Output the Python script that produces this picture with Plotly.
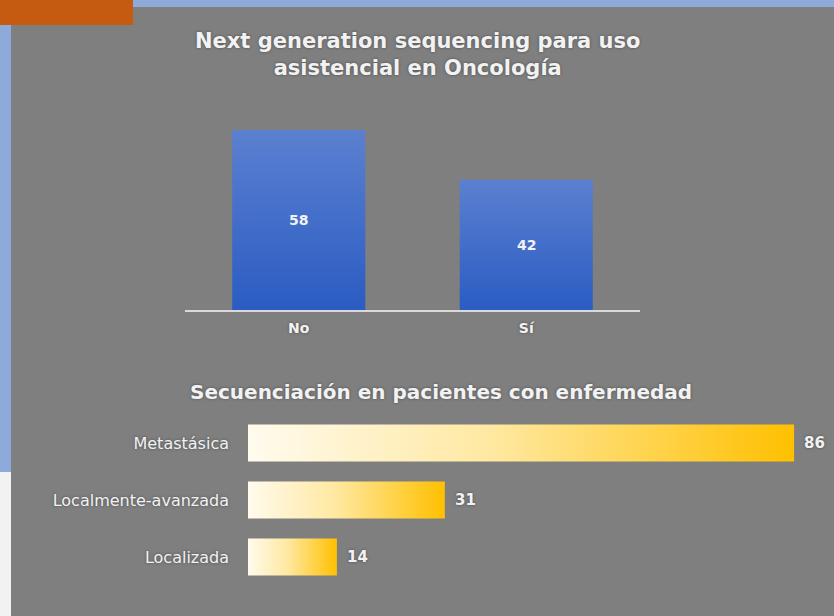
import plotly.graph_objects as go

# ---- data ----
ngs_categories = ["No", "Sí"]
ngs_values = [58, 42]

stage_categories = ["Metastásica", "Localmente-avanzada", "Localizada"]
stage_values = [86, 31, 14]

# ---- page geometry (pixels) ----
W, H = 834, 616
BG = "#7f7f7f"
TXT = "#f2f2f2"
SHADOW = "0px 0px 3px #4a4a4a"


def fx(p):
    return p / W


def fy(p):
    return 1 - p / H


fig = go.Figure()

# vertical bars (top chart), drawn as gradient-filled rectangles on a numeric axis
bar_w = 0.585
for i, (cat, v) in enumerate(zip(ngs_categories, ngs_values)):
    fig.add_trace(go.Scatter(
        x=[i - bar_w / 2, i + bar_w / 2, i + bar_w / 2, i - bar_w / 2, i - bar_w / 2],
        y=[0, 0, v, v, 0],
        mode="lines", line=dict(width=0), fill="toself",
        fillgradient=dict(type="vertical",
                          colorscale=[[0, "#2b5cc3"], [1, "#5b80d0"]]),
        hoverinfo="skip", showlegend=False, xaxis="x", yaxis="y",
    ))
    fig.add_annotation(x=i, y=v / 2, xref="x", yref="y", text=str(v),
                       showarrow=False,
                       font=dict(family="DejaVu Sans", size=14, color=TXT, weight="bold"))

# horizontal bars (bottom chart), white-to-gold gradient
bar_h = 0.65
for i, (cat, v) in enumerate(zip(stage_categories, stage_values)):
    fig.add_trace(go.Scatter(
        x=[0, v, v, 0, 0],
        y=[i - bar_h / 2, i - bar_h / 2, i + bar_h / 2, i + bar_h / 2, i - bar_h / 2],
        mode="lines", line=dict(width=0), fill="toself",
        fillgradient=dict(type="horizontal",
                          colorscale=[[0, "#fffbee"], [0.45, "#ffe8a0"], [1, "#ffc000"]]),
        hoverinfo="skip", showlegend=False, xaxis="x2", yaxis="y2",
    ))
    fig.add_annotation(x=v, y=i, xref="x2", yref="y2", text=str(v),
                       showarrow=False, xanchor="left", xshift=8,
                       font=dict(family="DejaVu Sans", size=15, color=TXT, weight="bold",
                                 shadow=SHADOW))

# decorative frame: top strip, orange tab, left strip
fig.add_shape(type="rect", xref="paper", yref="paper", x0=0, x1=1, y0=fy(7), y1=1,
              fillcolor="#8eaadb", line_width=0, layer="below")
fig.add_shape(type="rect", xref="paper", yref="paper", x0=0, x1=fx(11), y0=fy(472), y1=1,
              fillcolor="#8eaadb", line_width=0, layer="below")
fig.add_shape(type="rect", xref="paper", yref="paper", x0=0, x1=fx(11), y0=0, y1=fy(472),
              fillcolor="#f2f2f2", line_width=0, layer="below")
fig.add_shape(type="rect", xref="paper", yref="paper", x0=0, x1=fx(133), y0=fy(25), y1=1,
              fillcolor="#c55a11", line_width=0, layer="below")

# titles
fig.add_annotation(xref="paper", yref="paper", x=fx(417), y=fy(54),
                   text="Next generation sequencing para uso<br>asistencial en Oncología",
                   showarrow=False, xanchor="center", yanchor="middle",
                   font=dict(family="DejaVu Sans", size=21, color=TXT, weight="bold",
                             shadow=SHADOW))
fig.add_annotation(xref="paper", yref="paper", x=fx(441), y=fy(392),
                   text="Secuenciación en pacientes con enfermedad",
                   showarrow=False, xanchor="center", yanchor="middle",
                   font=dict(family="DejaVu Sans", size=20, color=TXT, weight="bold",
                             shadow=SHADOW))

# scales: top chart zero at y=310 px, 58 reaching y=130 px
top_px, base_px = 110, 310
px_per_unit = 180 / 58
h_px_per_unit = 6.35

fig.update_layout(
    width=W, height=H,
    margin=dict(l=0, r=0, t=0, b=0),
    paper_bgcolor=BG, plot_bgcolor=BG,
    showlegend=False,
    xaxis=dict(domain=[fx(185), fx(640)], range=[-0.5, 1.5],
               tickvals=list(range(len(ngs_categories))), ticktext=ngs_categories,
               showline=True, linecolor="#d9d9d9", linewidth=2,
               showgrid=False, zeroline=False, ticks="", ticklabelstandoff=4,
               tickfont=dict(family="DejaVu Sans", size=14, color=TXT, weight="bold",
                             shadow=SHADOW),
               fixedrange=True),
    yaxis=dict(domain=[fy(base_px), fy(top_px)],
               range=[0, (base_px - top_px) / px_per_unit],
               visible=False, fixedrange=True),
    xaxis2=dict(domain=[fx(248), 1.0], range=[0, (W - 248) / h_px_per_unit],
                visible=False, anchor="y2", fixedrange=True),
    yaxis2=dict(domain=[fy(585.5), fy(414.5)], range=[2.5, -0.5],
                tickvals=list(range(len(stage_categories))), ticktext=stage_categories,
                showgrid=False, zeroline=False, showline=False, ticks="",
                ticklabelstandoff=18, anchor="x2",
                tickfont=dict(family="DejaVu Sans", size=16, color=TXT, shadow=SHADOW),
                fixedrange=True),
)

fig.write_html("out.html")
